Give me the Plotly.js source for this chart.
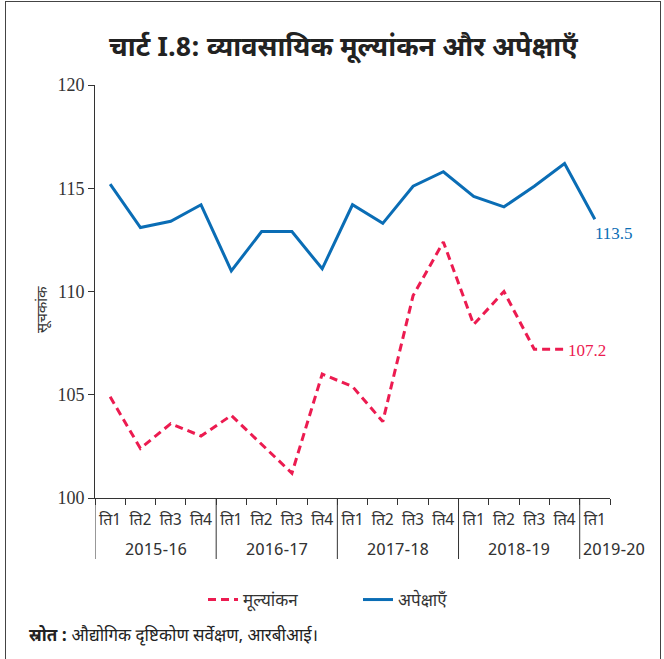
<!DOCTYPE html>
<html>
<head>
<meta charset="utf-8">
<script src="https://cdn.plot.ly/plotly-3.0.1.min.js"></script>
<style>
  html, body { margin: 0; padding: 0; background: #fff; }
  #chart { width: 664px; height: 659px; position: absolute; left: 0; top: 0; }
  #frame { position: absolute; left: 5px; top: 1px; width: 656px; height: 670px;
           border: 1.5px solid #444; pointer-events: none; box-sizing: border-box; }
</style>
</head>
<body>
<div id="chart"></div>
<div id="frame"></div>
<script>
// Data
const years = ["2015-16","2015-16","2015-16","2015-16",
               "2016-17","2016-17","2016-17","2016-17",
               "2017-18","2017-18","2017-18","2017-18",
               "2018-19","2018-19","2018-19","2018-19",
               "2019-20"];
const quarters = ["ति1","ति2","ति3","ति4",
                  "ति1","ति2","ति3","ति4",
                  "ति1","ति2","ति3","ति4",
                  "ति1","ति2","ति3","ति4",
                  "ति1"];
const valuation = [104.9, 102.4, 103.6, 103.0,
                   104.0, 102.6, 101.2, 106.0,
                   105.4, 103.7, 109.8, 112.4,
                   108.4, 110.0, 107.2, 107.2];
const expectations = [115.2, 113.1, 113.4, 114.2,
                      111.0, 112.9, 112.9, 111.1,
                      114.2, 113.3, 115.1, 115.8,
                      114.6, 114.1, 115.1, 116.2,
                      113.5];
const seriesNames = ["मूल्यांकन", "अपेक्षाएँ"];
const titleText = "चार्ट I.8: व्यावसायिक मूल्यांकन और अपेक्षाएँ";
const yTitle = "सूचकांक";
const sourceLabel = "स्रोत :";
const sourceText = "औद्योगिक दृष्टिकोण सर्वेक्षण, आरबीआई।";

const RED = "#ec1b50";
const BLUE = "#0a6db5";
const DEV = "'Noto Sans Devanagari', 'Noto Sans', sans-serif";
const NUM = "'Liberation Serif', 'DejaVu Serif', serif";

// unique category keys: year + quarter
const cats = years.map((y, i) => y + " " + quarters[i]);
const nV = valuation.length;
const nE = expectations.length;

const traces = [
  {
    x: cats.slice(0, nV), y: valuation,
    name: seriesNames[0],
    type: "scatter", mode: "lines",
    line: { color: RED, width: 3, dash: "8px,5px" }
  },
  {
    x: cats.slice(0, nE), y: expectations,
    name: seriesNames[1],
    type: "scatter", mode: "lines",
    line: { color: BLUE, width: 3 }
  }
];

const L = 95, R = 54, T = 85, B = 161, W = 664, H = 659;
const PH = H - T - B;

// year groups (from the years array)
const yearList = [...new Set(years)];
const yearFirst = yearList.map(y => years.indexOf(y));
const yearLast = yearList.map(y => years.lastIndexOf(y));

const annotations = [];
const shapes = [];
yearList.forEach((y, k) => {
  const single = yearFirst[k] === yearLast[k];
  annotations.push({
    x: single ? yearFirst[k] - 0.5 : (yearFirst[k] + yearLast[k]) / 2, xref: "x",
    xshift: single ? 1 : 0,
    y: -(551 - (H - B)) / PH, yref: "paper",
    text: y, showarrow: false, xanchor: single ? "left" : "center", yanchor: "middle",
    font: { family: DEV, size: 17, color: "#333" }
  });
  shapes.push({
    type: "line", xref: "x", yref: "paper",
    x0: yearFirst[k] - 0.5, x1: yearFirst[k] - 0.5,
    y0: 0, y1: -(559 - (H - B)) / PH,
    line: { color: "#333", width: 1 }
  });
});

annotations.push(
  {
    x: cats[nE - 1], y: expectations[nE - 1],
    xref: "x", yref: "y",
    text: String(expectations[nE - 1]),
    showarrow: false, xanchor: "left", yanchor: "middle",
    xshift: -2, yshift: -14,
    font: { family: NUM, size: 17, color: BLUE }
  },
  {
    x: cats[nV - 1], y: valuation[nV - 1],
    xref: "x", yref: "y",
    text: String(valuation[nV - 1]),
    showarrow: false, xanchor: "left", yanchor: "middle",
    xshift: 1, yshift: -1,
    font: { family: NUM, size: 17, color: RED }
  },
  {
    x: (27 - L) / (W - L - R), y: (H - B - 636) / PH,
    xref: "paper", yref: "paper",
    text: "<b>" + sourceLabel + "</b> " + sourceText,
    showarrow: false, xanchor: "left", yanchor: "middle",
    font: { family: DEV, size: 17, color: "#222" }
  },
  {
    x: 0, xref: "paper", xshift: -(L - 43), xanchor: "center",
    y: (H - B - 310) / PH, yref: "paper", yanchor: "middle",
    text: yTitle, textangle: -90, showarrow: false,
    font: { family: DEV, size: 15, color: "#333" }
  }
);

const layout = {
  width: W, height: H,
  paper_bgcolor: "#fff", plot_bgcolor: "#fff",
  margin: { l: L, r: R, t: T, b: B },
  showlegend: true,
  font: { family: DEV, color: "#333" },
  title: {
    text: "<b>" + titleText + "</b>",
    font: { family: DEV, size: 27, color: "#222" },
    x: 0.517, xref: "container", xanchor: "center",
    y: 1 - 47 / H, yref: "container", yanchor: "middle"
  },
  xaxis: {
    type: "category", categoryorder: "array", categoryarray: cats,
    range: [-0.5, cats.length - 0.5], autorange: false,
    tickvals: cats, ticktext: quarters,
    showline: true, linecolor: "#333", linewidth: 1,
    ticks: "outside", ticklen: 6, tickcolor: "#333", tickson: "boundaries",
    ticklabelstandoff: 7,
    showgrid: false, zeroline: false, tickangle: 0,
    tickfont: { family: DEV, size: 16, color: "#333" },
    automargin: false
  },
  yaxis: {
    range: [100, 120], dtick: 5, tick0: 100,
    showline: true, linecolor: "#333", linewidth: 1,
    ticks: "outside", ticklen: 6, tickcolor: "#333",
    showgrid: false, zeroline: false,
    tickfont: { family: NUM, size: 18, color: "#333" },
    automargin: false
  },
  legend: {
    orientation: "h",
    x: 203 / W, xref: "container", xanchor: "left",
    y: 1 - 600 / H, yref: "container", yanchor: "middle",
    font: { family: DEV, size: 17, color: "#333" },
    entrywidth: 110, entrywidthmode: "pixels",
    traceorder: "normal"
  },
  shapes: shapes,
  annotations: annotations
};

Plotly.newPlot("chart", traces, layout, { displayModeBar: false, staticPlot: true });
</script>
</body>
</html>
